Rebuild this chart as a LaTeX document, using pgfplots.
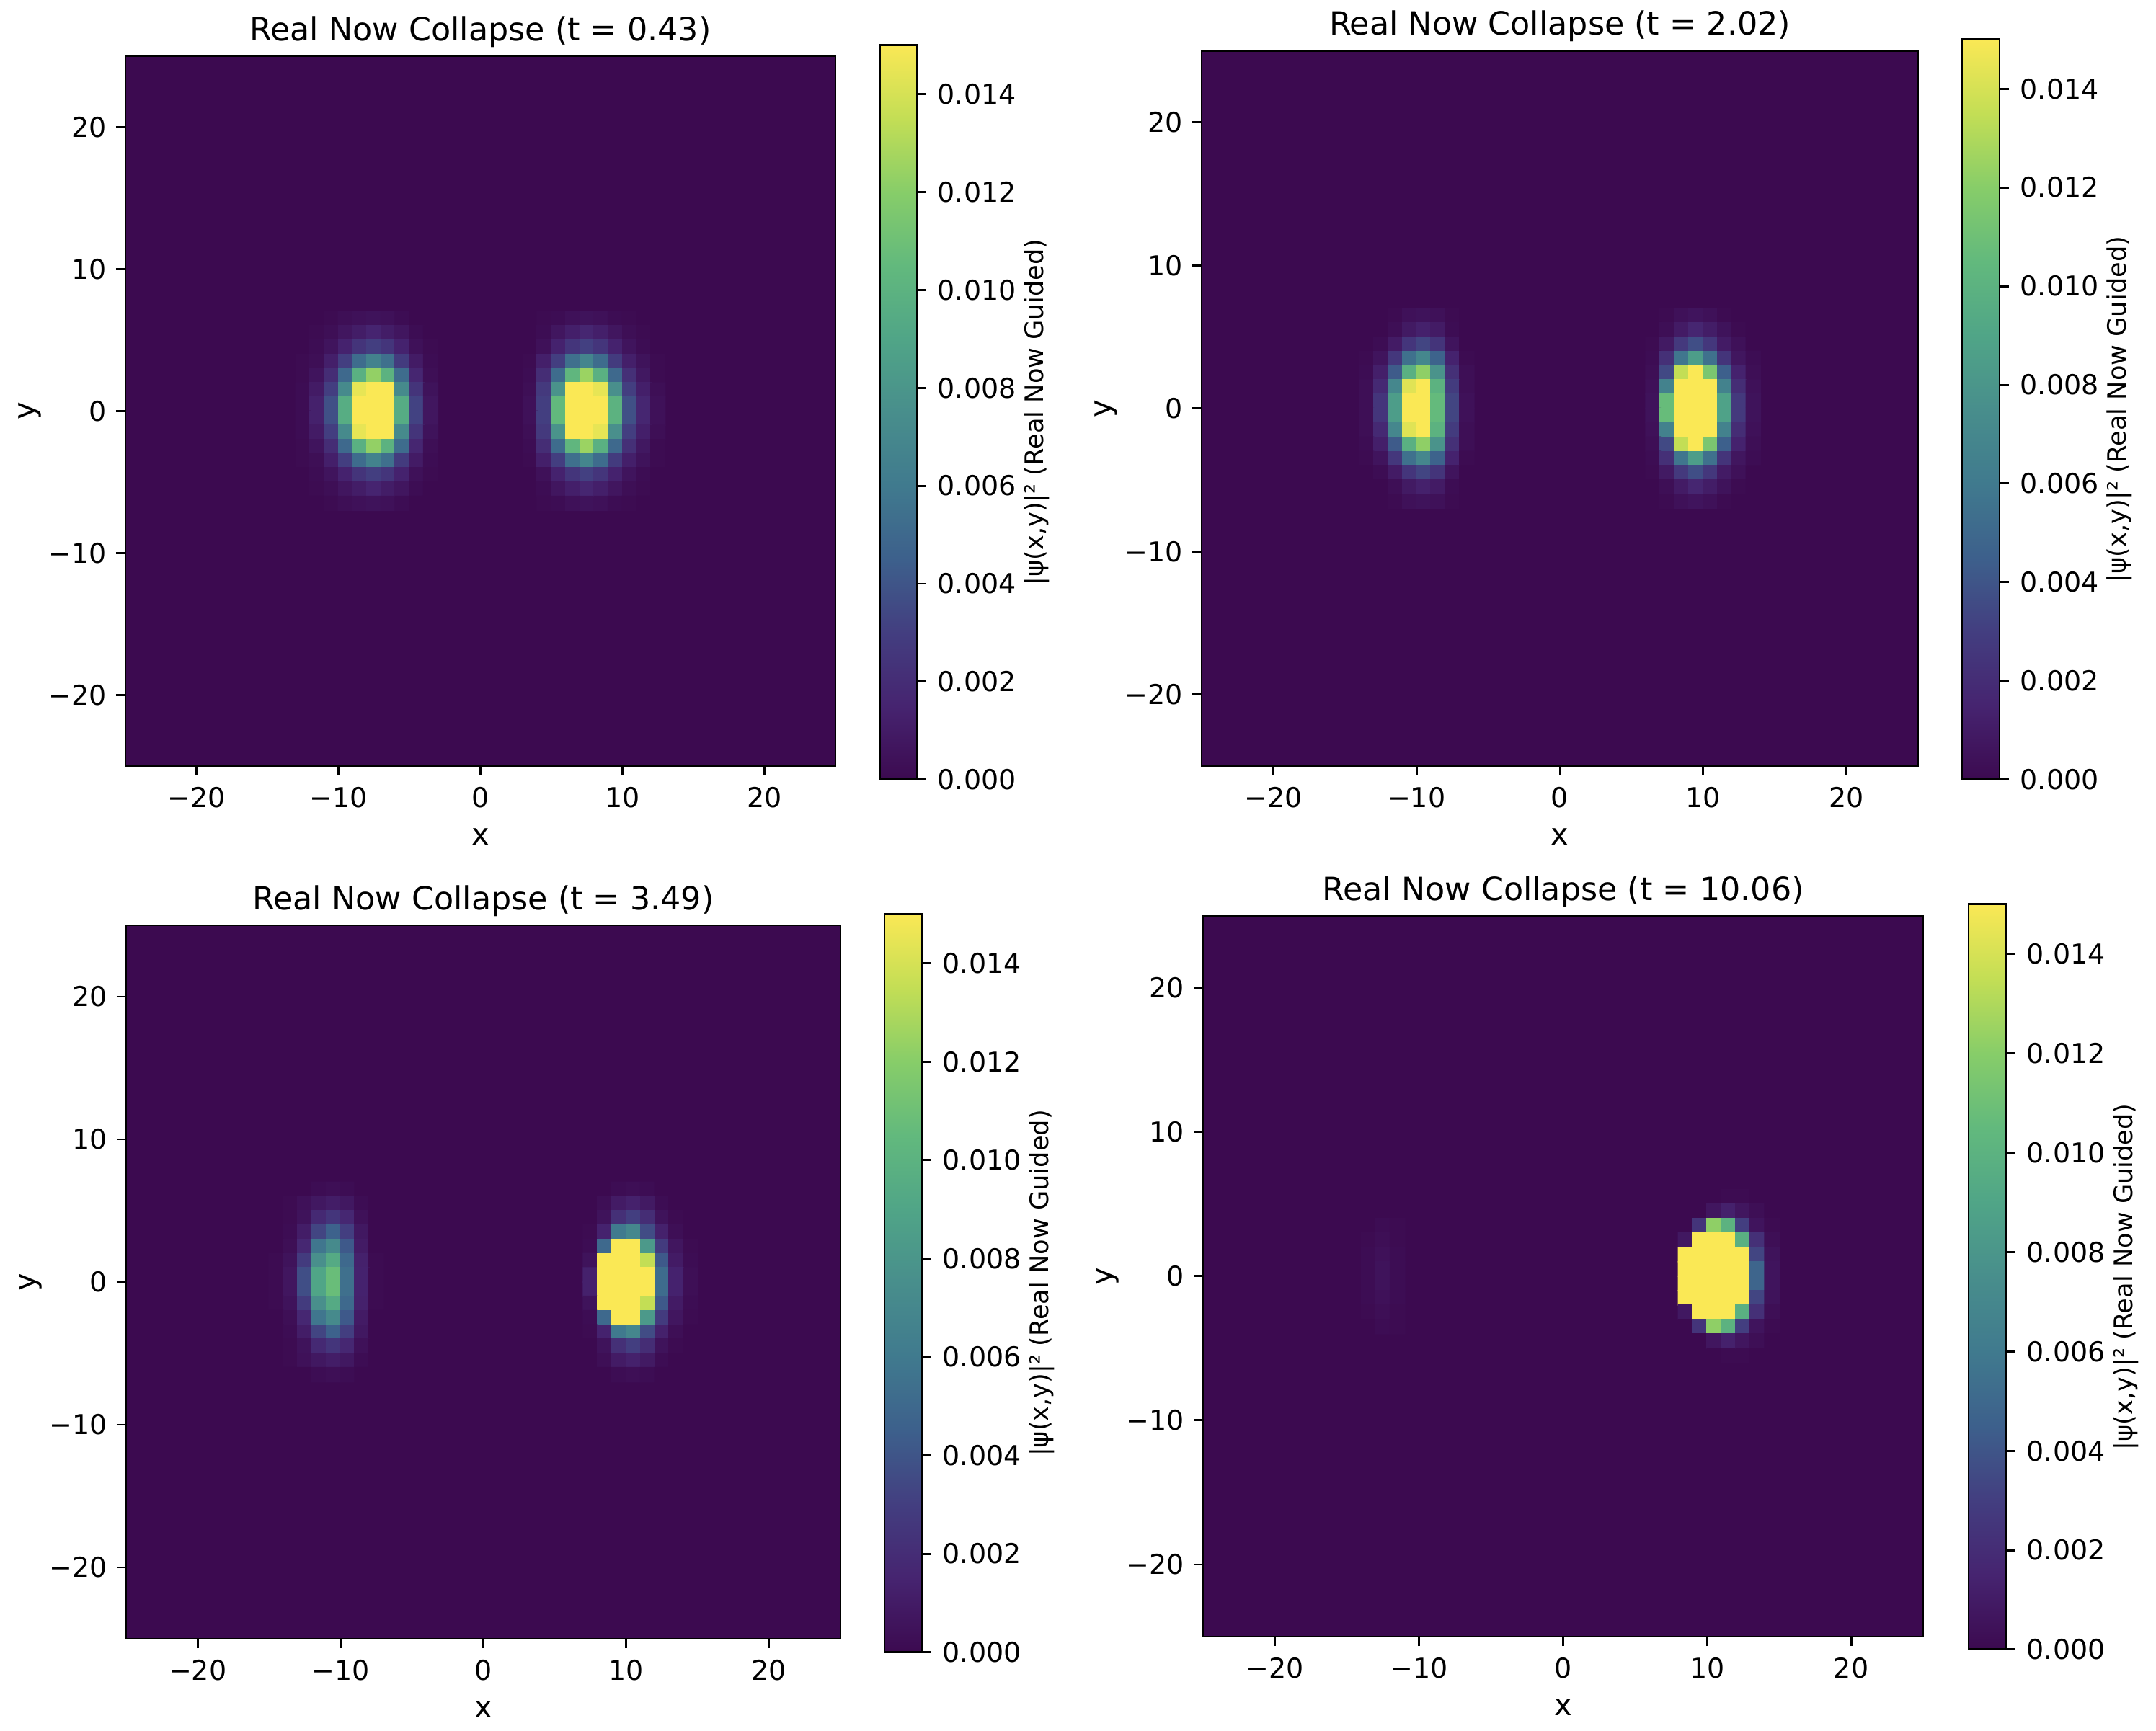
\documentclass[border=0pt]{standalone}
\usepackage{fontspec}
\setmainfont{DejaVu Sans}
\usepackage{pgfplots}
\usepackage{pgfplotstable}
\pgfplotsset{compat=1.18}
\definecolor{virlow}{RGB}{60,10,80}
\pgfplotsset{
  colormap={vir}{rgb255=(60,10,80) rgb255=(70,36,112) rgb255=(67,62,128) rgb255=(61,96,140)
    rgb255=(64,122,142) rgb255=(72,142,140) rgb255=(80,165,135) rgb255=(98,185,125)
    rgb255=(135,205,105) rgb255=(195,222,85) rgb255=(250,232,85)},
  panel/.style={
    scale only axis, colormap name=vir, axis on top,
    xmin=-25, xmax=25, ymin=-25, ymax=25, enlargelimits=false,
    point meta min=0, point meta max=0.015,
    axis background/.style={fill=virlow},
    axis line style={line width=0.7pt},
    tick style={black, line width=0.7pt},
    major tick length=3.12pt, tick align=outside,
    xtick pos=bottom, ytick pos=left,
    xtick={-20,-10,0,10,20}, xticklabels={−20,−10,0,10,20},
    ytick={-20,-10,0,10,20}, yticklabels={−20,−10,0,10,20},
    tick label style={font=\fontsize{9.12}{11}\selectfont, inner sep=0pt},
    xticklabel shift=3.8pt, yticklabel shift=3pt,
    title style={font=\fontsize{10.66}{12}\selectfont, at={(axis description cs:0.5,1)}, anchor=base, yshift=-0.8pt},
    xlabel=x, ylabel=y,
    label style={font=\fontsize{9.12}{11}\selectfont},
    every axis x label/.style={at={(axis description cs:0.5,0)}, anchor=base, yshift=-26.2pt},
    every axis y label/.style={at={(axis description cs:0,0.5)}, xshift=-30.2pt, rotate=90, anchor=base},
    colorbar,
  },
  cbar/.style n args={4}{colorbar style={
    scale only axis, width=#1, height=#2, axis on top,
    at={(parent axis.south east)}, anchor=south west, xshift=#3, yshift=#4,
    axis line style={black, line width=0.7pt},
    tick style={black, line width=0.7pt},
    major tick length=3.12pt, tick align=outside,
    ytick={0,0.002,0.004,0.006,0.008,0.010,0.012,0.014},
    yticklabels={0.000,0.002,0.004,0.006,0.008,0.010,0.012,0.014},
    scaled y ticks=false, ytick pos=right, yticklabel pos=right, xtick=\empty,
    yticklabel shift=3.6pt,
    ylabel={|ψ(x,y)|² (Real Now Guided)},
    label style={font=\fontsize{8.45}{10}\selectfont},
    every axis y label/.style={at={(axis description cs:1,0.5)}, xshift=42.2pt, rotate=90, anchor=base, font=\fontsize{8.45}{10}\selectfont},
  }},
}
\newcommand{\blob}[4]{% table, first x, first y, columns
  \addplot[matrix plot*, point meta=explicit, mesh/cols=#4] table[
    x index=0, y index=0,
    x expr={\coordindex-#4*floor((\coordindex+0.5)/#4)+(#2)},
    y expr={(#3)-floor((\coordindex+0.5)/#4)},
    meta expr={\thisrow{z}*0.0001}] {#1};}

% cell values in units of 1e-4, row by row from the top
\pgfplotstableread[row sep=crcr]{z\\
0\\0\\1\\3\\4\\5\\4\\2\\0\\0\\
0\\1\\3\\7\\11\\15\\11\\7\\2\\0\\
0\\2\\6\\14\\24\\30\\25\\14\\4\\1\\
1\\3\\12\\30\\52\\66\\54\\28\\10\\2\\
1\\6\\20\\50\\98\\123\\100\\52\\16\\3\\
2\\10\\30\\72\\145\\165\\155\\72\\24\\5\\
2\\13\\38\\96\\160\\190\\170\\95\\32\\7\\
2\\13\\38\\96\\160\\190\\170\\95\\32\\7\\
2\\10\\30\\72\\145\\165\\155\\72\\24\\5\\
1\\6\\20\\50\\98\\123\\100\\52\\16\\3\\
1\\3\\12\\30\\52\\66\\54\\28\\10\\2\\
0\\2\\6\\14\\24\\30\\25\\14\\4\\1\\
0\\1\\3\\7\\11\\15\\11\\7\\2\\0\\
0\\0\\1\\3\\4\\5\\4\\2\\0\\0\\
}\panelAleft
\pgfplotstableread[row sep=crcr]{z\\
0\\1\\2\\4\\5\\4\\2\\1\\0\\0\\
0\\2\\7\\12\\16\\12\\7\\3\\1\\0\\
0\\4\\14\\25\\31\\25\\14\\6\\2\\0\\
1\\12\\30\\54\\68\\52\\28\\12\\5\\1\\
2\\20\\52\\103\\125\\98\\50\\22\\8\\1\\
3\\27\\78\\160\\170\\145\\76\\30\\12\\3\\
4\\30\\105\\170\\190\\165\\100\\38\\16\\4\\
4\\30\\105\\170\\190\\165\\100\\38\\16\\4\\
3\\27\\78\\160\\170\\145\\76\\30\\12\\3\\
2\\20\\52\\103\\125\\98\\50\\22\\8\\1\\
1\\12\\30\\54\\68\\52\\28\\12\\5\\1\\
0\\4\\14\\25\\31\\25\\14\\6\\2\\0\\
0\\2\\7\\12\\16\\12\\7\\3\\1\\0\\
0\\1\\2\\4\\5\\4\\2\\1\\0\\0\\
}\panelAright
\pgfplotstableread[row sep=crcr]{z\\
0\\0\\1\\4\\5\\4\\1\\0\\
0\\0\\3\\9\\13\\10\\2\\0\\
0\\2\\10\\25\\33\\24\\6\\0\\
1\\6\\26\\55\\70\\47\\14\\1\\
2\\12\\43\\98\\122\\78\\22\\3\\
3\\18\\70\\143\\170\\100\\28\\3\\
3\\25\\85\\160\\190\\106\\33\\4\\
3\\25\\85\\160\\190\\106\\33\\4\\
3\\18\\70\\143\\170\\100\\28\\3\\
2\\12\\43\\98\\122\\78\\22\\3\\
1\\6\\26\\55\\70\\47\\14\\1\\
0\\2\\10\\25\\33\\24\\6\\0\\
0\\0\\3\\9\\13\\10\\2\\0\\
0\\0\\1\\4\\5\\4\\1\\0\\
}\panelBleft
\pgfplotstableread[row sep=crcr]{z\\
0\\1\\4\\6\\4\\1\\0\\0\\
0\\3\\10\\16\\11\\5\\1\\0\\
1\\9\\27\\37\\26\\10\\4\\0\\
2\\22\\58\\85\\55\\24\\7\\2\\
3\\35\\135\\160\\115\\45\\14\\3\\
4\\66\\165\\190\\170\\66\\20\\4\\
5\\107\\175\\195\\170\\88\\27\\5\\
5\\107\\175\\195\\170\\88\\27\\5\\
4\\66\\165\\190\\170\\66\\20\\4\\
3\\35\\135\\160\\115\\45\\14\\3\\
2\\22\\58\\85\\55\\24\\7\\2\\
1\\9\\27\\37\\26\\10\\4\\0\\
0\\3\\10\\16\\11\\5\\1\\0\\
0\\1\\4\\6\\4\\1\\0\\0\\
}\panelBright
\pgfplotstableread[row sep=crcr]{z\\
0\\0\\0\\2\\3\\2\\0\\0\\
0\\1\\4\\8\\11\\8\\2\\0\\
0\\1\\5\\18\\25\\17\\4\\0\\
0\\2\\11\\33\\46\\30\\8\\0\\
0\\3\\17\\58\\72\\42\\10\\0\\
1\\5\\28\\76\\94\\50\\13\\1\\
1\\7\\37\\90\\108\\54\\14\\1\\
1\\7\\37\\90\\108\\54\\14\\1\\
1\\5\\28\\76\\94\\50\\13\\1\\
0\\3\\17\\58\\72\\42\\10\\0\\
0\\2\\11\\33\\46\\30\\8\\0\\
0\\1\\5\\18\\25\\17\\4\\0\\
0\\1\\4\\8\\11\\8\\2\\0\\
0\\0\\0\\2\\3\\2\\0\\0\\
}\panelCleft
\pgfplotstableread[row sep=crcr]{z\\
0\\0\\2\\3\\2\\0\\0\\0\\
0\\3\\10\\13\\9\\2\\0\\0\\
0\\5\\22\\30\\20\\5\\1\\0\\
1\\14\\60\\70\\36\\13\\3\\0\\
2\\50\\160\\170\\82\\28\\7\\1\\
5\\160\\175\\190\\135\\42\\10\\2\\
13\\165\\190\\200\\155\\52\\14\\3\\
13\\165\\190\\200\\155\\52\\14\\3\\
5\\160\\175\\190\\135\\42\\10\\2\\
2\\50\\160\\170\\82\\28\\7\\1\\
1\\14\\60\\70\\36\\13\\3\\0\\
0\\5\\22\\30\\20\\5\\1\\0\\
0\\3\\10\\13\\9\\2\\0\\0\\
0\\0\\2\\3\\2\\0\\0\\0\\
}\panelCright
\pgfplotstableread[row sep=crcr]{z\\
0\\2\\1\\
1\\3\\1\\
2\\4\\2\\
2\\5\\2\\
2\\5\\2\\
2\\4\\2\\
1\\3\\1\\
0\\2\\1\\
}\panelDleft
\pgfplotstableread[row sep=crcr]{z\\
0\\0\\0\\1\\1\\0\\0\\
0\\0\\7\\13\\7\\3\\0\\
0\\24\\122\\100\\30\\6\\1\\
8\\165\\175\\170\\98\\22\\3\\
155\\185\\190\\185\\155\\33\\5\\
160\\195\\200\\195\\165\\48\\6\\
160\\195\\200\\195\\165\\48\\6\\
155\\185\\190\\185\\155\\33\\5\\
8\\165\\175\\170\\98\\22\\3\\
0\\24\\122\\100\\30\\6\\1\\
0\\0\\7\\13\\7\\3\\0\\
0\\0\\0\\1\\1\\0\\0\\
}\panelDright

\begin{document}
\begin{tikzpicture}
\useasboundingbox (0,0) rectangle (717.84pt,576.24pt);
\begin{axis}[panel, at={(41.76pt,321.12pt)}, anchor=south west, width=236.4pt, height=236.4pt,
  title={Real Now Collapse (t = 0.43)}, cbar={12.24pt}{244.56pt}{6.34pt}{-4.5pt}]
\blob{\panelAleft}{-12.5}{6.5}{10}
\blob{\panelAright}{3.5}{6.5}{10}
\end{axis}
\begin{axis}[panel, at={(400.08pt,321.12pt)}, anchor=south west, width=238.56pt, height=238.18pt,
  title={Real Now Collapse (t = 2.02)}, cbar={12.48pt}{246.48pt}{6.1pt}{-4.5pt}]
\blob{\panelBleft}{-13.5}{6.5}{8}
\blob{\panelBright}{6.5}{6.5}{8}
\end{axis}
\begin{axis}[panel, at={(42pt,30.48pt)}, anchor=south west, width=237.84pt, height=237.6pt,
  title={Real Now Collapse (t = 3.49)}, cbar={12.48pt}{245.86pt}{6.1pt}{-4.5pt}]
\blob{\panelCleft}{-14.5}{6.5}{8}
\blob{\panelCright}{7.5}{6.5}{8}
\end{axis}
\begin{axis}[panel, at={(400.56pt,31.2pt)}, anchor=south west, width=239.76pt, height=240.07pt,
  title={Real Now Collapse (t = 10.06)}, cbar={12.48pt}{248.16pt}{6.58pt}{-4.3pt}]
\blob{\panelDleft}{-13.5}{3.5}{3}
\blob{\panelDright}{8.5}{5.5}{7}
\end{axis}
\end{tikzpicture}
\end{document}
